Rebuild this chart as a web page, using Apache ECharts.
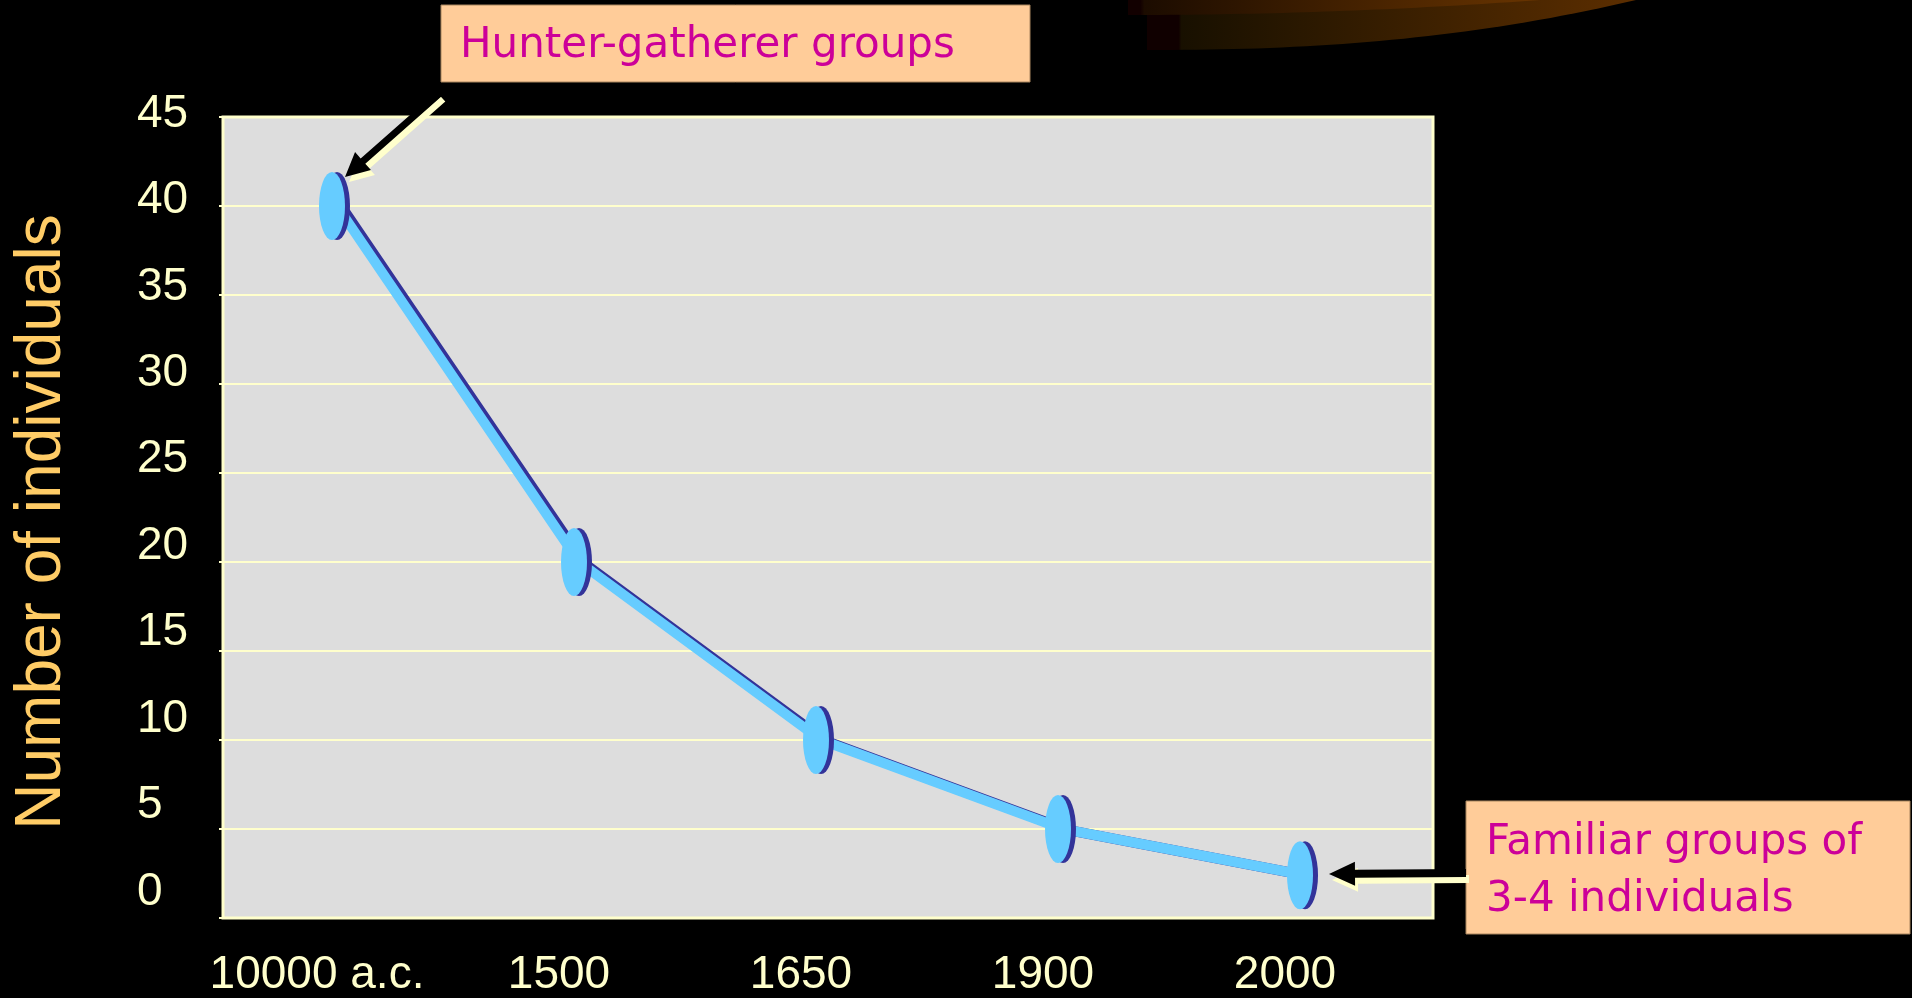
<!DOCTYPE html>
<html>
<head>
<meta charset="utf-8">
<title>Group size</title>
<script src="https://cdn.jsdelivr.net/npm/echarts@6/dist/echarts.min.js"></script>
<style>
  html, body { margin: 0; padding: 0; background: #000; }
  #main { width: 1912px; height: 998px; }
</style>
</head>
<body>
<div id="main"></div>
<script>
// data
const categories = ['10000 a.c.', '1500', '1650', '1900', '2000'];
const groupSize = [40, 20, 10, 5, 2.4];
const yMin = 0, yMax = 45, yStep = 5;

const labelFont = 'Liberation Sans, Arial, sans-serif';
const pale = '#FFFFCC';

// vertical disk used as the point marker
const disk = 'path://M0,35A12,35,0,1,1,24,35A12,35,0,1,1,0,35Z';

// arrow outline: tail (x1,y1) -> tip (x2,y2)
function arrow(x1, y1, x2, y2, sw, hw, hl) {
  const dx = x2 - x1, dy = y2 - y1, L = Math.hypot(dx, dy);
  const ux = dx / L, uy = dy / L, px = -uy, py = ux;
  const bx = x2 - ux * hl, by = y2 - uy * hl;
  return [
    [x1 + px * sw / 2, y1 + py * sw / 2],
    [bx + px * sw / 2, by + py * sw / 2],
    [bx + px * hw / 2, by + py * hw / 2],
    [x2, y2],
    [bx - px * hw / 2, by - py * hw / 2],
    [bx - px * sw / 2, by - py * sw / 2],
    [x1 - px * sw / 2, y1 - py * sw / 2]
  ];
}

// the brown swoosh from the slide template (top right)
function band(x0, x1, depth, p) {
  const pts = [[x0, 0]];
  for (let i = 0; i <= 40; i++) {
    const t = i / 40;
    pts.push([x0 + (x1 - x0) * t, depth * (1 - Math.pow(t, p))]);
  }
  pts.push([x1, 0]);
  return pts;
}

const chart = echarts.init(document.getElementById('main'));

const option = {
  backgroundColor: '#000000',
  animation: false,
  grid: [
    { left: 223, top: 117, width: 1210, height: 801, show: true,
      backgroundColor: '#DDDDDD', borderColor: pale, borderWidth: 3 },
    { left: 216, top: 117, width: 1210, height: 801 },
    { left: 196, top: 114, width: 1210, height: 778 }
  ],
  xAxis: [
    { gridIndex: 0, type: 'category', data: categories, show: false },
    { gridIndex: 1, type: 'category', data: categories, show: false },
    { gridIndex: 2, type: 'category', data: categories,
      axisLine: { show: false }, axisTick: { show: false },
      axisLabel: { interval: 0, color: pale, fontSize: 46, fontFamily: labelFont, margin: 60 } }
  ],
  yAxis: [
    { gridIndex: 0, type: 'value', min: yMin, max: yMax, interval: yStep,
      axisLabel: { show: false }, axisLine: { show: false },
      axisTick: { show: true, length: 4, lineStyle: { color: pale, width: 2 } },
      splitLine: { lineStyle: { color: pale, width: 2 } } },
    { gridIndex: 1, type: 'value', min: yMin, max: yMax, show: false },
    { gridIndex: 2, type: 'value', min: yMin, max: yMax, interval: yStep,
      axisLine: { show: false }, axisTick: { show: false }, splitLine: { show: false },
      axisLabel: { color: pale, fontSize: 46, fontFamily: labelFont, align: 'left', margin: 59 } }
  ],
  series: [
    {
      type: 'line',
      xAxisIndex: 1,
      yAxisIndex: 1,
      data: groupSize,
      symbol: disk,
      symbolSize: [26, 68],
      symbolOffset: [-5, 0],
      itemStyle: { color: '#66CCFF', shadowColor: '#333399', shadowOffsetX: 5, shadowBlur: 0 },
      lineStyle: { color: '#66CCFF', width: 10, shadowColor: '#333399',
        shadowOffsetX: 5, shadowOffsetY: 1, shadowBlur: 0 },
      emphasis: { disabled: true },
      z: 3
    }
  ],
  graphic: [
    { type: 'polygon', z: 1, shape: { points: band(1147, 1636, 50, 2.3) },
      style: { fill: new echarts.graphic.LinearGradient(0, 0, 1, 0, [
        { offset: 0, color: '#100000' }, { offset: 0.065, color: '#100000' },
        { offset: 0.07, color: '#181000' }, { offset: 1, color: '#5C2E00' }]) } },
    { type: 'polygon', z: 1, shape: { points: band(1128, 1540, 15, 2) },
      style: { fill: new echarts.graphic.LinearGradient(0, 0, 1, 0, [
        { offset: 0, color: '#120000' }, { offset: 0.03, color: '#120000' },
        { offset: 0.04, color: '#1C0C00' }, { offset: 1, color: '#683400' }]) } },

    // y axis title
    { type: 'text', x: 42, y: 522, rotation: Math.PI / 2, z: 50,
      style: { text: 'Number of individuals', font: '64px ' + labelFont,
        fill: '#FFCC66', align: 'center', verticalAlign: 'middle' } },

    // annotation boxes
    { type: 'rect', z: 50, shape: { x: 441, y: 5, width: 589, height: 77 },
      style: { fill: '#FFCC99', stroke: '#A8855F', lineWidth: 1 } },
    { type: 'text', x: 460, y: 46, z: 51,
      style: { text: 'Hunter-gatherer groups', font: '42px "DejaVu Sans"',
        fill: '#CC0099', verticalAlign: 'middle' } },
    { type: 'rect', z: 50, shape: { x: 1466, y: 801, width: 444, height: 133 },
      style: { fill: '#FFCC99', stroke: '#A8855F', lineWidth: 1 } },
    { type: 'text', x: 1486, y: 843, z: 51,
      style: { text: 'Familiar groups of', font: '42px "DejaVu Sans"',
        fill: '#CC0099', verticalAlign: 'middle' } },
    { type: 'text', x: 1486, y: 900, z: 51,
      style: { text: '3-4 individuals', font: '42px "DejaVu Sans"',
        fill: '#CC0099', verticalAlign: 'middle' } },

    // arrows
    { type: 'polygon', z: 60, shape: { points: arrow(439, 94, 345, 177, 7, 24, 24) },
      style: { fill: '#000000', shadowColor: pale, shadowOffsetX: 4, shadowOffsetY: 5, shadowBlur: 0 } },
    { type: 'polygon', z: 60, shape: { points: arrow(1466, 873, 1329, 874, 8, 24, 26) },
      style: { fill: '#000000', shadowColor: pale, shadowOffsetX: 3, shadowOffsetY: 6, shadowBlur: 0 } }
  ]
};

chart.setOption(option);
</script>
</body>
</html>
